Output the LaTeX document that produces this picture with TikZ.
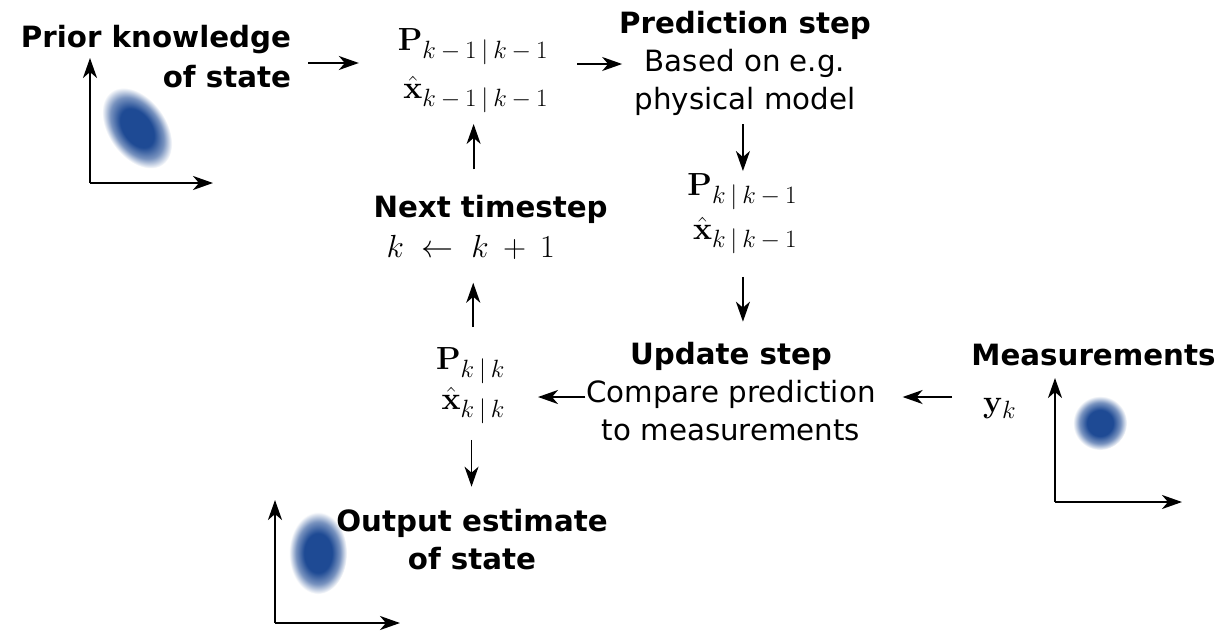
\RequirePackage{fix-cm}
\documentclass[tikz,border=0pt]{standalone}
\usepackage[no-math]{fontspec}
\newfontfamily\dvs{DejaVu Sans}
\usetikzlibrary{arrows.meta,calc}
\DeclareMathSizes{32}{32}{25}{18}
\definecolor{blobc}{RGB}{30,74,148}
\pgfdeclareradialshading{blobsh}{\pgfpoint{0bp}{0bp}}{color(0bp)=(blobc); color(12bp)=(blobc); color(19bp)=(blobc!60); color(25bp)=(white); color(50bp)=(white)}
\newcommand{\kfmin}{\mskip3.5mu{-}\mskip3.5mu}
\newcommand{\kfbar}{\mskip3.5mu|\mskip3.5mu}
\tikzset{
  txt/.style={font=\dvs\fontsize{29.3}{38}\selectfont, inner sep=0pt, outer sep=0pt},
  boldtxt/.style={font=\dvs\bfseries\fontsize{29.3}{38}\selectfont, inner sep=0pt, outer sep=0pt},
  mth/.style={inner sep=0pt, outer sep=0pt},
  arr/.style={line width=1.8pt, -{Stealth[length=20pt,width=14pt,inset=6pt]}},
  ax/.style={line width=2.4pt, -{Stealth[length=20pt,width=14pt,inset=6pt]}},
}
\begin{document}
\begin{tikzpicture}[x=1pt,y=-1pt]
\useasboundingbox[fill=white] (0,0) rectangle (1219,630);

% blobs
\begin{scope}[transform canvas={shift={(137,128)},rotate=35}]
  \shade[shading=blobsh] (0,0) ellipse [x radius=29,y radius=45];
\end{scope}
\begin{scope}[transform canvas={shift={(318,553)}}]
  \shade[shading=blobsh] (0,0) ellipse [x radius=29,y radius=41];
\end{scope}
\begin{scope}[transform canvas={shift={(1100,423)}}]
  \shade[shading=blobsh] (0,0) circle [radius=27];
\end{scope}

% axes
\draw[ax] (90,183) -- (90,58);
\draw[ax] (90,183) -- (213,183);
\draw[ax] (275,623) -- (275,500);
\draw[ax] (275,623) -- (400,623);
\draw[ax] (1055,502) -- (1055,378);
\draw[ax] (1055,502) -- (1182,502);

% nodes
\node[boldtxt, font=\dvs\bfseries\fontsize{29.3}{40}\selectfont, align=right, anchor=east] (prior) at (291,57) {Prior knowledge\\of state};
\node[mth, font=\fontsize{32}{48}\selectfont, align=right, anchor=east] (pkm1) at (548,71)
  {$\mathbf{P}_{k\kfmin 1\kfbar k\kfmin 1}$\\$\hat{\mathbf{x}}_{k\kfmin 1\kfbar k\kfmin 1}$};
\node[txt, align=center] (pred) at (745,63) {{\bfseries Prediction step}\\Based on e.g.\\physical model};
\node[mth, font=\fontsize{32}{44}\selectfont, align=right, anchor=east] (pk) at (797,214)
  {$\mathbf{P}_{k\kfbar k\kfmin 1}$\\$\hat{\mathbf{x}}_{k\kfbar k\kfmin 1}$};
\node[txt, align=center] (update) at (731,392) {{\bfseries Update step}\\Compare prediction\\to measurements};
\node[mth, font=\fontsize{32}{40}\selectfont, align=right, anchor=east] (pkk) at (505,386)
  {$\mathbf{P}_{k\kfbar k}$\\$\hat{\mathbf{x}}_{k\kfbar k}$};
\node[boldtxt, font=\dvs\bfseries\fontsize{29.3}{40}\selectfont, align=left, anchor=west] (next) at (373.5,227.6)
  {Next timestep\\\hspace*{13pt}{\fontsize{32}{40}\selectfont$k\mskip5mu\leftarrow\mskip5mu k\mskip4mu+\mskip4mu 1$}};
\node[boldtxt, anchor=base] (meas) at (1093.5,365) {Measurements};
\node[mth, font=\fontsize{32}{40}\selectfont, anchor=base west] (yk) at (983,412) {$\mathbf{y}_k$};
\node[boldtxt, align=center] (out) at (472,540) {Output estimate\\of state};

% connectors
\draw[arr] ($(prior.east)+(17,6)$) -- ($(pkm1.west)+(-39,-8)$);
\draw[arr] ($(pkm1.east)+(29,-7)$) -- ($(pred.west)+(3,1)$);
\draw[arr] ($(pred.south -| pk.north)+(0.7,9)$) -- ($(pk.north)+(0.7,-3)$);
\draw[arr] ($(pk.south)+(0.7,23)$) -- ($(update.north -| pk.south)+(0.7,-21)$);
\draw[arr] ($(yk.west |- update.center)+(-31,5)$) -- ($(update.east)+(27,5)$);
\draw[arr] ($(update.west)+(-1,5)$) -- ($(pkk.east)+(33,11)$);
\draw[arr] ($(pkk.north)+(2.7,-21)$) -- ($(pkk.north |- next.south)+(2.7,23)$);
\draw[arr] ($(pkm1.south |- next.north)+(0.7,-26)$) -- ($(pkm1.south)+(0.7,11)$);
\draw[arr] ($(pkk.south)+(1,16)$) -- ($(out.north -| pkk.south)+(1,-23)$);
\end{tikzpicture}
\end{document}
